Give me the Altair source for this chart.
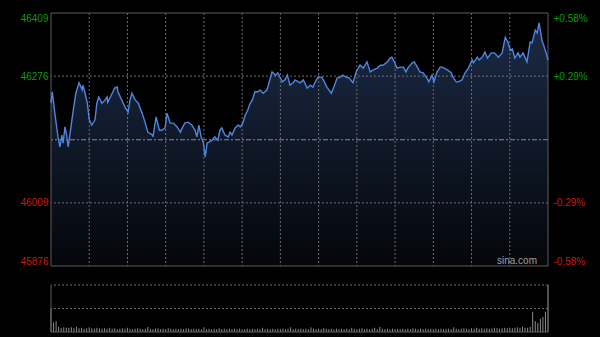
import altair as alt
import pandas as pd

PREV_CLOSE = 46142
Y_MIN, Y_MAX = 45876, 46409
SESSION_END = 390

# intraday minutes and index level
minutes = [
    0, 1, 3, 5.5, 7, 8.5, 9.5, 11, 12.5, 13.5,
    15, 17.5, 19.5, 22, 24.5, 25, 26.5, 28.5, 30, 32,
    34.5, 36, 37.5, 40, 42.5, 44, 44.5, 48, 50, 52,
    52.5, 55.5, 58, 60.5, 62, 63.5, 66, 68.5, 71.5, 74,
    76, 79.5, 80, 82.5, 85, 87, 89.5, 91, 93.5, 96,
    99, 101.5, 103, 105, 107.5, 110.5, 113, 114.5, 116, 118,
    119.5, 121, 122.5, 124, 126.5, 128.5, 131, 132.5, 134, 136.5,
    139, 140.5, 142, 144.5, 147, 148.5, 150.5, 152.5, 154.5, 156,
    158, 160, 162.5, 164, 166.5, 169.5, 173.5, 176, 178, 181.5,
    183.5, 185.5, 187.5, 190, 191.5, 195.5, 198, 201, 203.5, 205.5,
    207, 209.5, 212.5, 214.5, 216.5, 220, 222, 224.5, 227, 229,
    231.5, 234, 237, 239.5, 242.5, 245, 248, 250.5, 253, 256,
    258.5, 260.5, 264, 266, 267.5, 269.5, 271.5, 274, 276.5, 278.5,
    280, 283.5, 285, 287.5, 289.5, 292, 295, 296.5, 299, 300.5,
    303, 305.5, 307, 311, 314, 315.5, 318, 319.5, 322.5, 325,
    327.5, 330.5, 331.5, 334.5, 336, 338.5, 340.5, 342.5, 345.5, 348,
    351, 354, 356.5, 358.5, 360.5, 362, 364, 366.5, 368, 370.5,
    373.5, 376, 377.5, 380, 381.5, 383, 385.5, 386, 388.5, 390,
]
prices = [
    46219, 46243, 46198, 46148, 46127, 46152, 46135, 46169, 46148, 46127,
    46156, 46205, 46240, 46262, 46247, 46257, 46243, 46219, 46184, 46173,
    46184, 46219, 46232, 46219, 46226, 46232, 46221, 46240, 46251, 46253,
    46243, 46226, 46211, 46200, 46226, 46240, 46226, 46219, 46198, 46177,
    46158, 46152, 46148, 46190, 46162, 46162, 46167, 46198, 46177, 46177,
    46169, 46158, 46167, 46177, 46179, 46173, 46162, 46148, 46173, 46146,
    46137, 46106, 46135, 46137, 46141, 46148, 46141, 46162, 46167, 46152,
    46148, 46158, 46152, 46167, 46173, 46169, 46177, 46194, 46205, 46217,
    46226, 46243, 46243, 46247, 46240, 46247, 46285, 46278, 46283, 46264,
    46268, 46278, 46257, 46262, 46268, 46262, 46268, 46251, 46257, 46253,
    46262, 46274, 46274, 46264, 46253, 46240, 46253, 46272, 46274, 46278,
    46274, 46272, 46262, 46285, 46299, 46293, 46306, 46285, 46289, 46293,
    46299, 46299, 46306, 46314, 46316, 46306, 46293, 46295, 46295, 46285,
    46293, 46304, 46306, 46295, 46285, 46283, 46272, 46264, 46278, 46264,
    46285, 46295, 46295, 46289, 46283, 46274, 46264, 46264, 46268, 46283,
    46293, 46310, 46304, 46316, 46310, 46316, 46327, 46314, 46325, 46325,
    46316, 46325, 46358, 46348, 46331, 46333, 46314, 46325, 46316, 46325,
    46306, 46348, 46346, 46373, 46367, 46388, 46348, 46346, 46325, 46310,
]

# volume (relative units), one bar every 2 minutes
vol_minutes = list(range(0, SESSION_END + 1, 2))
volumes = [
    50, 20, 23, 11, 9, 10, 9, 9, 10, 8,
    11, 8, 9, 7, 8, 10, 8, 7, 9, 8,
    7, 8, 7, 9, 7, 8, 6, 7, 8, 7,
    9, 7, 6, 7, 8, 7, 6, 7, 11, 7,
    6, 7, 8, 6, 7, 6, 8, 7, 6, 7,
    6, 7, 6, 8, 7, 6, 7, 6, 7, 6,
    10, 6, 7, 6, 7, 6, 8, 6, 7, 6,
    7, 6, 7, 6, 7, 6, 6, 7, 6, 7,
    6, 7, 6, 9, 6, 7, 6, 7, 6, 7,
    6, 7, 6, 7, 10, 6, 7, 6, 7, 6,
    7, 6, 10, 7, 6, 7, 6, 8, 7, 6,
    7, 6, 7, 6, 7, 6, 7, 6, 9, 7,
    6, 7, 8, 6, 7, 6, 7, 9, 6, 11,
    7, 6, 7, 6, 7, 6, 7, 6, 7, 6,
    7, 6, 8, 7, 6, 7, 6, 7, 6, 7,
    6, 7, 6, 7, 6, 7, 7, 6, 10, 7,
    6, 7, 8, 7, 6, 8, 7, 9, 7, 8,
    7, 8, 7, 8, 9, 8, 7, 8, 9, 8,
    9, 8, 9, 10, 9, 11, 9, 9, 11, 43,
    23, 19, 28, 32, 43, 100,
]
VOL_MAX = 100

label_prices = [45876, 46009, 46276, 46409]
grid_prices = [46276, 46009]
grid_minutes = [30, 60, 90, 120, 150, 180, 210, 240, 270, 300, 330, 360]
vol_grid = [50, 100]

price_df = pd.DataFrame({"t": minutes, "price": prices})
vol_df = pd.DataFrame({"t": vol_minutes, "vol": volumes})

GREEN = "#0a9e0a"
RED = "#cc1a10"
GRID = "#6e6e6e"
BORDER = "#5c5c5c"
FONT = "Liberation Sans"

W, H_PRICE, H_TOTAL = 497, 253, 319

time_scale = alt.Scale(domain=[0, SESSION_END], nice=False, zero=False)
price_scale = alt.Scale(domain=[Y_MIN, Y_MAX], range=[H_PRICE, 0], nice=False, zero=False)
vol_scale = alt.Scale(domain=[0, VOL_MAX], range=[H_TOTAL, 272], nice=False, zero=False)

label_color = {"condition": {"test": f"datum.value > {PREV_CLOSE}", "value": GREEN}, "value": RED}

left_axis = alt.Axis(
    values=label_prices, orient="left", domain=False, ticks=False, grid=False,
    labelFont=FONT, labelFontSize=10, labelPadding=3, labelFlush=True,
    labelColor=label_color, title=None, format="d",
)
right_axis = alt.Axis(
    values=label_prices, orient="right", domain=False, ticks=False, grid=False,
    labelFont=FONT, labelFontSize=10, labelPadding=5, labelFlush=True,
    labelColor=label_color, title=None,
    labelExpr=(
        f"(datum.value >= {PREV_CLOSE} ? '+' : '-') + "
        f"format(abs(datum.value - {PREV_CLOSE}) / {PREV_CLOSE} * 100, '.2f') + '%'"
    ),
)

X = alt.X("t:Q", scale=time_scale, axis=None)

gradient = alt.Gradient(
    gradient="linear",
    stops=[alt.GradientStop(color="#1b2a46", offset=0),
           alt.GradientStop(color="#04060a", offset=1)],
    x1=1, x2=1, y1=0, y2=1,
)

area = alt.Chart(price_df).mark_area(color=gradient).encode(
    x=X,
    y=alt.Y("price:Q", scale=price_scale, axis=left_axis),
    y2=alt.datum(Y_MIN),
)

hgrid = alt.Chart(pd.DataFrame({"price": grid_prices})).mark_rule(
    color=GRID, strokeDash=[2, 2], strokeWidth=1
).encode(y=alt.Y("price:Q", scale=price_scale, axis=None))

vgrid = alt.Chart(pd.DataFrame({"t": grid_minutes, "top": Y_MAX, "bottom": Y_MIN})).mark_rule(
    color=GRID, strokeDash=[2, 2], strokeWidth=1
).encode(
    x=X,
    y=alt.Y("top:Q", scale=price_scale, axis=None),
    y2="bottom:Q",
)

baseline = alt.Chart(pd.DataFrame({"price": [PREV_CLOSE]})).mark_rule(
    color="#8a8a8a", strokeDash=[5, 2, 2, 2], strokeWidth=1
).encode(y=alt.Y("price:Q", scale=price_scale, axis=None))

border = alt.Chart(pd.DataFrame({"t0": [0], "t1": [SESSION_END], "top": [Y_MAX], "bottom": [Y_MIN]})).mark_rect(
    fillOpacity=0, stroke=BORDER, strokeWidth=1
).encode(
    x=alt.X("t0:Q", scale=time_scale, axis=None), x2="t1:Q",
    y=alt.Y("top:Q", scale=price_scale, axis=None), y2="bottom:Q",
)

line = alt.Chart(price_df).mark_line(color="#4e86de", strokeWidth=1.4).encode(
    x=X,
    y=alt.Y("price:Q", scale=price_scale, axis=right_axis),
)

watermark = alt.Chart(pd.DataFrame({"txt": ["sina.com"], "t": [SESSION_END], "price": [Y_MIN]})).mark_text(
    align="right", baseline="middle", color="#a0a0a0", font=FONT, fontSize=10, dx=-11, dy=-5
).encode(
    x=X,
    y=alt.Y("price:Q", scale=price_scale, axis=None),
    text="txt:N",
)

vol_bars = alt.Chart(vol_df).mark_rule(color="#8c8c8c", strokeWidth=1).encode(
    x=X,
    y=alt.Y("vol:Q", scale=vol_scale, axis=None),
    y2=alt.datum(0),
)

vol_gridlines = alt.Chart(pd.DataFrame({"vol": vol_grid})).mark_rule(
    color=GRID, strokeDash=[2, 2], strokeWidth=1
).encode(y=alt.Y("vol:Q", scale=vol_scale, axis=None))

vol_bottom = alt.Chart(pd.DataFrame({"vol": [0]})).mark_rule(
    color=BORDER, strokeWidth=1
).encode(y=alt.Y("vol:Q", scale=vol_scale, axis=None))

vol_sides = alt.Chart(pd.DataFrame({"t": [0, SESSION_END], "lo": [0, 0], "hi": [VOL_MAX, VOL_MAX]})).mark_rule(
    color=BORDER, strokeWidth=1
).encode(
    x=X,
    y=alt.Y("hi:Q", scale=vol_scale, axis=None),
    y2="lo:Q",
)

chart = alt.layer(
    area, hgrid, vgrid, baseline, border, line, watermark,
    vol_gridlines, vol_bars, vol_bottom, vol_sides,
).resolve_scale(y="independent").properties(
    width=W, height=H_TOTAL,
    autosize=alt.AutoSizeParams(type="none"),
    padding={"left": 51, "top": 13, "right": 52, "bottom": 5},
    background="#000000",
).configure_view(stroke=None)

chart.save("out.html", embed_options={"renderer": "svg", "actions": False})
